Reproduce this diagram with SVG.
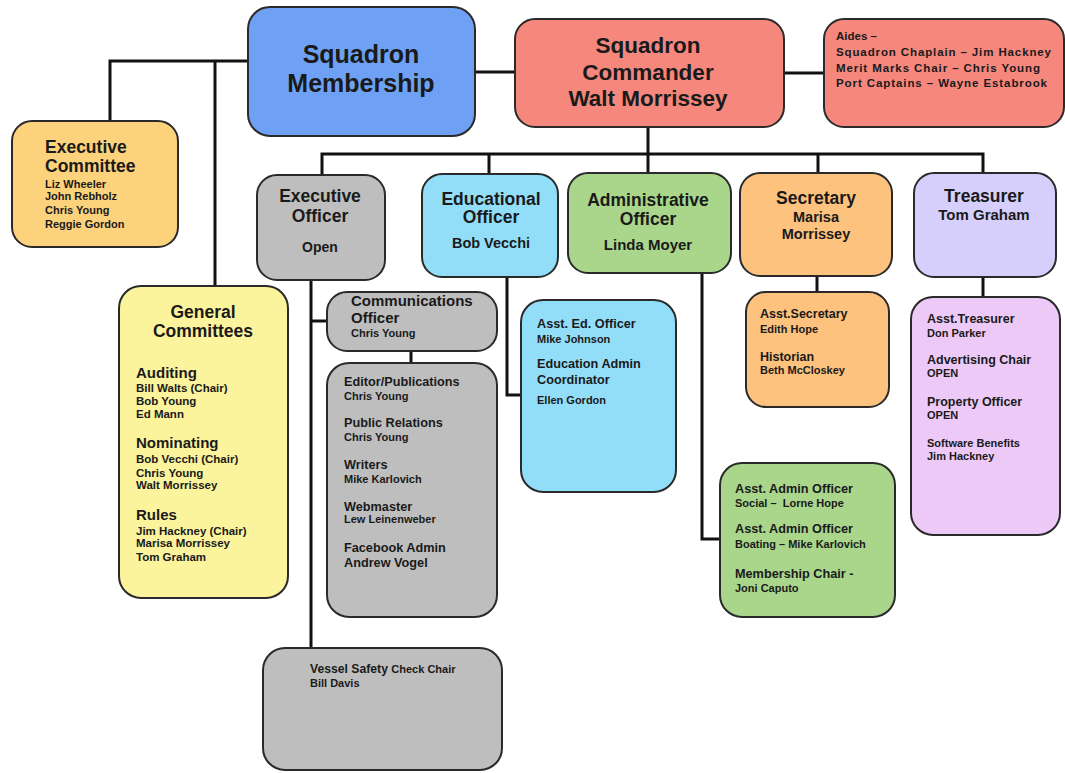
<svg xmlns="http://www.w3.org/2000/svg" width="1065" height="773" viewBox="0 0 1065 773">
<style>
  text { font-family: "Liberation Sans", Arial, sans-serif; font-weight: bold; fill: #1a1a1a; }
  .box { stroke: #2a2a2a; stroke-width: 2; }
  .t25 { font-size: 25px; }
  .t22 { font-size: 22.5px; }
  .t17 { font-size: 17.5px; }
  .t15 { font-size: 15px; }
  .t13 { font-size: 12.7px; }
  .t11 { font-size: 11px; }
  .mid { text-anchor: middle; }
  .conn { stroke: #111; stroke-width: 3; fill: none; }
  .blue { fill: #6EA1F3; }
  .salmon { fill: #F5877D; }
  .gold { fill: #FCD27C; }
  .gray { fill: #BEBEBE; }
  .sky { fill: #92DEF9; }
  .green { fill: #A9D68B; }
  .orange { fill: #FDC27D; }
  .lav { fill: #D6CFFB; }
  .pink { fill: #EDC9F7; }
  .yellow { fill: #FCF49C; }
</style>
<rect width="1065" height="773" fill="#ffffff"/>

<g id="connectors">
  <polyline class="conn" points="248,61 110,61 110,121"/>
  <line class="conn" x1="215" y1="61" x2="215" y2="287"/>
  <line class="conn" x1="475" y1="72" x2="515" y2="72"/>
  <line class="conn" x1="784" y1="73" x2="824" y2="73"/>
  <line class="conn" x1="648" y1="127" x2="648" y2="154"/>
  <polyline class="conn" points="322,175 322,154 983,154 983,174"/>
  <line class="conn" x1="489" y1="154" x2="489" y2="174"/>
  <line class="conn" x1="648" y1="154" x2="648" y2="174"/>
  <line class="conn" x1="818" y1="154" x2="818" y2="174"/>
  <line class="conn" x1="311" y1="280" x2="311" y2="648"/>
  <line class="conn" x1="311" y1="321" x2="327" y2="321"/>
  <line class="conn" x1="411" y1="351" x2="411" y2="363"/>
  <polyline class="conn" points="507,277 507,395 522,395"/>
  <polyline class="conn" points="702,273 702,539 720,539"/>
  <line class="conn" x1="817" y1="276" x2="817" y2="292"/>
  <line class="conn" x1="983" y1="277" x2="983" y2="297"/>
</g>

<g id="membership">
  <rect class="box blue" x="248" y="7" width="227" height="129" rx="22"/>
  <text class="t25 mid" x="361" y="63">Squadron</text>
  <text class="t25 mid" x="361" y="92">Membership</text>
</g>

<g id="commander">
  <rect class="box salmon" x="515" y="19" width="269" height="108" rx="20"/>
  <text class="t22 mid" x="648" y="53">Squadron</text>
  <text class="t22 mid" x="648" y="80">Commander</text>
  <text class="t22 mid" x="648" y="106">Walt Morrissey</text>
</g>

<g id="aides">
  <rect class="box salmon" x="824" y="19" width="240" height="108" rx="20"/>
  <text class="t11" x="836" y="40" style="font-size:11.5px">Aides –</text>
  <text class="t11" x="836" y="56" style="font-size:11.5px" textLength="215" lengthAdjust="spacing">Squadron Chaplain – Jim Hackney</text>
  <text class="t11" x="836" y="72" style="font-size:11.5px" textLength="204" lengthAdjust="spacing">Merit Marks Chair – Chris Young</text>
  <text class="t11" x="836" y="87" style="font-size:11.5px" textLength="211" lengthAdjust="spacing">Port Captains – Wayne Estabrook</text>
</g>

<g id="executive-committee">
  <rect class="box gold" x="12" y="121" width="166" height="126" rx="20"/>
  <text class="t17" x="45" y="153">Executive</text>
  <text class="t17" x="45" y="172">Committee</text>
  <text class="t11" x="45" y="188">Liz Wheeler</text>
  <text class="t11" x="45" y="200">John Rebholz</text>
  <text class="t11" x="45" y="214">Chris Young</text>
  <text class="t11" x="45" y="228">Reggie Gordon</text>
</g>

<g id="executive-officer">
  <rect class="box gray" x="257" y="175" width="128" height="105" rx="20"/>
  <text class="t17 mid" x="320" y="202">Executive</text>
  <text class="t17 mid" x="320" y="222">Officer</text>
  <text class="t15 mid" x="320" y="252" style="font-size:14px">Open</text>
</g>

<g id="educational-officer">
  <rect class="box sky" x="422" y="174" width="136" height="103" rx="20"/>
  <text class="t17 mid" x="491" y="205">Educational</text>
  <text class="t17 mid" x="491" y="223">Officer</text>
  <text class="t15 mid" x="491" y="248" style="font-size:14.5px">Bob Vecchi</text>
</g>

<g id="administrative-officer">
  <rect class="box green" x="568" y="173" width="163" height="100" rx="20"/>
  <text class="t17 mid" x="648" y="206">Administrative</text>
  <text class="t17 mid" x="648" y="225">Officer</text>
  <text class="t15 mid" x="648" y="250">Linda Moyer</text>
</g>

<g id="secretary">
  <rect class="box orange" x="740" y="173" width="152" height="103" rx="20"/>
  <text class="t17 mid" x="816" y="204">Secretary</text>
  <text class="t15 mid" x="816" y="222" style="font-size:14.5px">Marisa</text>
  <text class="t15 mid" x="816" y="239" style="font-size:14.5px">Morrissey</text>
</g>

<g id="treasurer">
  <rect class="box lav" x="914" y="173" width="142" height="104" rx="20"/>
  <text class="t17 mid" x="984" y="202">Treasurer</text>
  <text class="t15 mid" x="984" y="220">Tom Graham</text>
</g>

<g id="general-committees">
  <rect class="box yellow" x="119" y="286" width="169" height="312" rx="22"/>
  <text class="t17 mid" x="203" y="318">General</text>
  <text class="t17 mid" x="203" y="337">Committees</text>
  <text class="t15" x="136" y="378">Auditing</text>
  <text class="t11" x="136" y="392" style="font-size:11.5px">Bill Walts (Chair)</text>
  <text class="t11" x="136" y="405" style="font-size:11.5px">Bob Young</text>
  <text class="t11" x="136" y="418" style="font-size:11.5px">Ed Mann</text>
  <text class="t15" x="136" y="448">Nominating</text>
  <text class="t11" x="136" y="463" style="font-size:11.5px">Bob Vecchi (Chair)</text>
  <text class="t11" x="136" y="477" style="font-size:11.5px">Chris Young</text>
  <text class="t11" x="136" y="489" style="font-size:11.5px">Walt Morrissey</text>
  <text class="t15" x="136" y="520">Rules</text>
  <text class="t11" x="136" y="535" style="font-size:11.5px">Jim Hackney (Chair)</text>
  <text class="t11" x="136" y="547" style="font-size:11.5px">Marisa Morrissey</text>
  <text class="t11" x="136" y="561" style="font-size:11.5px">Tom Graham</text>
</g>

<g id="communications-officer">
  <rect class="box gray" x="327" y="292" width="170" height="59" rx="20"/>
  <text class="t15" x="351" y="306">Communications</text>
  <text class="t15" x="351" y="323">Officer</text>
  <text class="t11" x="351" y="337">Chris Young</text>
</g>

<g id="communications-staff">
  <rect class="box gray" x="327" y="363" width="170" height="254" rx="22"/>
  <text class="t13" x="344" y="386">Editor/Publications</text>
  <text class="t11" x="344" y="400">Chris Young</text>
  <text class="t13" x="344" y="427">Public Relations</text>
  <text class="t11" x="344" y="441">Chris Young</text>
  <text class="t13" x="344" y="469">Writers</text>
  <text class="t11" x="344" y="483">Mike Karlovich</text>
  <text class="t13" x="344" y="511">Webmaster</text>
  <text class="t11" x="344" y="523">Lew Leinenweber</text>
  <text class="t13" x="344" y="552">Facebook Admin</text>
  <text class="t13" x="344" y="567">Andrew Vogel</text>
</g>

<g id="vessel-safety">
  <rect class="box gray" x="263" y="648" width="239" height="122" rx="22"/>
  <text class="t13" x="310" y="673" style="font-size:12.2px">Vessel Safety <tspan style="font-size:11px">Check Chair</tspan></text>
  <text class="t11" x="310" y="687">Bill Davis</text>
</g>

<g id="assistant-education">
  <rect class="box sky" x="521" y="300" width="155" height="192" rx="22"/>
  <text class="t13" x="537" y="328">Asst. Ed. Officer</text>
  <text class="t11" x="537" y="343">Mike Johnson</text>
  <text class="t13" x="537" y="368">Education Admin</text>
  <text class="t13" x="537" y="384">Coordinator</text>
  <text class="t11" x="537" y="404">Ellen Gordon</text>
</g>

<g id="assistant-secretary">
  <rect class="box orange" x="746" y="292" width="143" height="115" rx="20"/>
  <text class="t13" x="760" y="318" style="font-size:12.5px">Asst.Secretary</text>
  <text class="t11" x="760" y="333">Edith Hope</text>
  <text class="t13" x="760" y="361" style="font-size:12.5px">Historian</text>
  <text class="t11" x="760" y="374">Beth McCloskey</text>
</g>

<g id="assistant-treasurer">
  <rect class="box pink" x="911" y="297" width="149" height="238" rx="22"/>
  <text class="t13" x="927" y="323" style="font-size:12.5px">Asst.Treasurer</text>
  <text class="t11" x="927" y="337">Don Parker</text>
  <text class="t13" x="927" y="364" style="font-size:12.5px">Advertising Chair</text>
  <text class="t11" x="927" y="377">OPEN</text>
  <text class="t13" x="927" y="406" style="font-size:12.5px">Property Officer</text>
  <text class="t11" x="927" y="419">OPEN</text>
  <text class="t11" x="927" y="447">Software Benefits</text>
  <text class="t11" x="927" y="460">Jim Hackney</text>
</g>

<g id="assistant-admin">
  <rect class="box green" x="720" y="463" width="175" height="154" rx="22"/>
  <text class="t13" x="735" y="493">Asst. Admin Officer</text>
  <text class="t11" x="735" y="507" xml:space="preserve">Social –  Lorne Hope</text>
  <text class="t13" x="735" y="533">Asst. Admin Officer</text>
  <text class="t11" x="735" y="548">Boating – Mike Karlovich</text>
  <text class="t13" x="735" y="578">Membership Chair -</text>
  <text class="t11" x="735" y="592">Joni Caputo</text>
</g>
</svg>
